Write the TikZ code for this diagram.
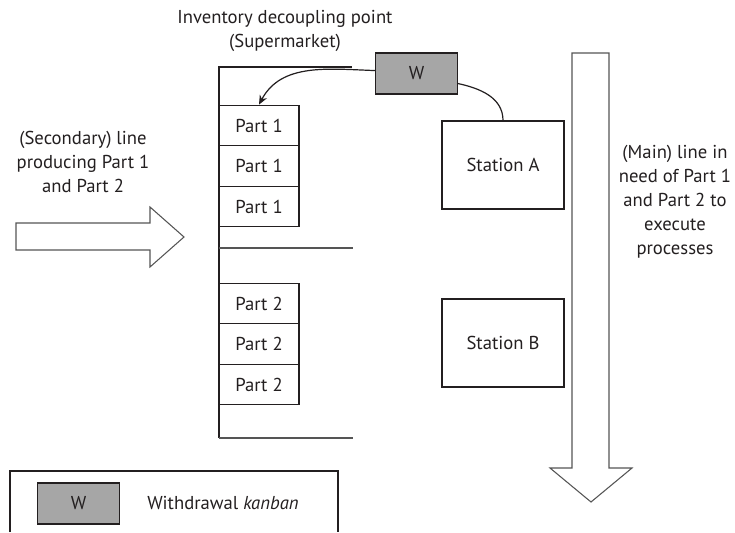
\documentclass[tikz,border=0pt]{standalone}
\usepackage{fontspec}
\setmainfont{PT Sans}
\usetikzlibrary{arrows.meta}
\definecolor{ink}{HTML}{231F20}
\definecolor{kanban}{HTML}{A6A6A6}
\definecolor{rim}{HTML}{555555}
\begin{document}
\begin{tikzpicture}[x=0.75pt,y=-0.75pt,
  every node/.style={font=\fontsize{14pt}{18pt}\selectfont, text=ink},
  partbox/.style={draw=ink, line width=0.9pt, minimum width=60pt, minimum height=30.4pt, inner sep=0pt},
  wbox/.style={draw=ink, line width=0.9pt, fill=kanban, minimum width=61pt, minimum height=30.8pt, inner sep=0pt},
  stationbox/.style={draw=ink, line width=0.9pt, minimum width=91.5pt, minimum height=66pt, inner sep=0pt},
  rack/.style={draw=ink, line width=1pt},
  shelf/.style={draw=rim, line width=0.9pt},
  flow/.style={draw=rim, line width=0.8pt, fill=white, line join=miter},
  label/.style={align=center, inner sep=0pt}]
\useasboundingbox (0,0) rectangle (735,532);

% supermarket rack
\draw[rack] (352,67) -- (219,67) -- (219,438);
\draw[shelf] (219,248) -- (353,248);
\draw[shelf] (219,438) -- (353,438);

% stored parts
\node[partbox] (p11) at (259,125.5) {Part 1};
\node[partbox] (p12) at (259,166) {Part 1};
\node[partbox] (p13) at (259,206.5) {Part 1};
\node[partbox] (p21) at (259,303.5) {Part 2};
\node[partbox] (p22) at (259,344) {Part 2};
\node[partbox] (p23) at (259,384.5) {Part 2};

% stations on the main line
\node[stationbox] (stA) at (503,165) {Station A};
\node[stationbox] (stB) at (503,343) {Station B};

% withdrawal kanban
\node[wbox] (w) at (416.5,73.5) {W};
\draw[line width=0.9pt, draw=ink, -{Stealth[length=7pt,width=6pt]}]
  ([yshift=2.2pt]w.west) to[out=178,in=62] (p11.north);
\draw[line width=0.9pt, draw=ink]
  ([yshift=-7.5pt]w.east) to[out=-12,in=90] (stA.north);

% main line arrow
\draw[flow] (572,53) -- (609,53) -- (609,468) -- (632,468) -- (591,502)
  -- (550,468) -- (572,468) -- cycle;

% secondary line arrow
\draw[flow] (16,223) -- (150,223) -- (150,207) -- (184,237) -- (150,267)
  -- (150,250) -- (16,250) -- cycle;

% labels
\node[label] (title) at (285,31) {Inventory decoupling point\\(Supermarket)};
\node[label] (sec) at (83,162) {(Secondary) line\\producing Part 1\\and Part 2};
\node[label] (mainl) at (675,202) {(Main) line in\\need of Part 1\\and Part 2 to\\execute\\processes};

% legend
\draw[draw=ink, line width=0.9pt] (10,532) -- (10,471) -- (338,471) -- (338,532);
\node[wbox, minimum width=62pt] (lw) at (78.5,503.5) {W};
\node[anchor=west, inner sep=0pt] (lt) at (147,503) {Withdrawal \textit{kanban}};
\end{tikzpicture}
\end{document}
